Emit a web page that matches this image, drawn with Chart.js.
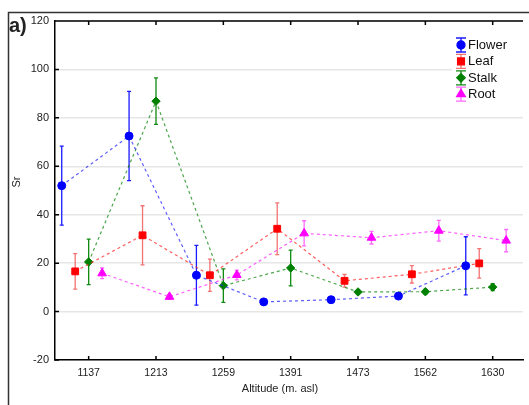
<!DOCTYPE html>
<html>
<head>
<meta charset="utf-8">
<script src="https://cdn.jsdelivr.net/npm/chart.js@4.4.0/dist/chart.umd.min.js"></script>
<style>
  body { margin: 0; background: #fff; }
  canvas { display: block; }
</style>
</head>
<body>
<canvas id="myChart" width="529" height="405"></canvas>
<script>
// altitude groups on the x axis
var altitudes = ["1137", "1213", "1259", "1391", "1473", "1562", "1630"];
var yTicks = [-20, 0, 20, 40, 60, 80, 100, 120];

var seriesNames = ["Flower", "Leaf", "Stalk", "Root"];

// Sr means and error (+/-)
var flower = [52.0, 72.5, 15.0, 4.0, 4.9, 6.4, 18.9];
var flowerErr = [16.3, 18.4, 12.3, 0.6, 0.6, 0.8, 12.0];
var leaf = [16.6, 31.5, 15.0, 34.2, 12.7, 15.4, 19.9];
var leafErr = [7.3, 12.2, 6.7, 10.7, 2.6, 3.6, 6.1];
var stalk = [20.5, 86.9, 10.7, 18.0, 8.1, 8.2, 10.1];
var stalkErr = [9.4, 9.6, 6.9, 7.4, 1.0, 1.0, 1.4];
var root = [15.8, 6.1, 15.1, 32.3, 30.5, 33.4, 29.3];
var rootErr = [2.2, 1.0, 2.0, 5.2, 2.6, 4.3, 4.6];

var values = [flower, leaf, stalk, root];
var errors = [flowerErr, leafErr, stalkErr, rootErr];

var colors = ["#0000ff", "#ff0000", "#008000", "#ff00ff"];
var lineColors = ["rgba(40,40,255,0.75)", "rgba(255,40,40,0.75)", "rgba(0,128,0,0.7)", "rgba(255,40,255,0.75)"];
var errColors = ["#1a1aff", "rgba(240,90,90,0.85)", "#108a10", "rgba(255,80,255,0.85)"];
var styles = ["circle", "rect", "rectRot", "triangle"];
var radii = [4, 4.8, 4.2, 5];
var shift = [-0.4, -0.2, 0, 0.2];

var datasets = seriesNames.map(function (name, s) {
  return {
    label: name,
    data: values[s].map(function (v, i) { return { x: i + shift[s], y: v }; }),
    showLine: true,
    borderColor: lineColors[s],
    borderWidth: 1.2,
    borderDash: [3, 3],
    pointStyle: styles[s],
    pointRadius: radii[s],
    pointBackgroundColor: colors[s],
    pointBorderColor: colors[s],
    pointBorderWidth: 1
  };
});

var errorBars = {
  id: "errorBars",
  beforeDatasetsDraw: function (chart) {
    var ctx = chart.ctx, xs = chart.scales.x, ys = chart.scales.y;
    ctx.save();
    errors.forEach(function (errs, s) {
      ctx.strokeStyle = errColors[s];
      ctx.lineWidth = 1.3;
      values[s].forEach(function (v, i) {
        var x = xs.getPixelForValue(i + shift[s]);
        var top = ys.getPixelForValue(v + errs[i]);
        var bot = ys.getPixelForValue(v - errs[i]);
        ctx.beginPath();
        ctx.moveTo(x, top); ctx.lineTo(x, bot);
        ctx.moveTo(x - 2, top); ctx.lineTo(x + 2, top);
        ctx.moveTo(x - 2, bot); ctx.lineTo(x + 2, bot);
        ctx.stroke();
      });
    });
    ctx.restore();
  }
};

function drawMarker(ctx, s, x, y) {
  Chart.helpers.drawPoint(ctx, { pointStyle: styles[s], radius: radii[s], borderWidth: 1 }, x, y);
}

var extras = {
  id: "extras",
  afterDraw: function (chart) {
    var ctx = chart.ctx, a = chart.chartArea, xs = chart.scales.x, ys = chart.scales.y;
    ctx.save();
    // outer frame
    ctx.strokeStyle = "#333";
    ctx.lineWidth = 1.5;
    ctx.beginPath();
    ctx.moveTo(8.5, 405); ctx.lineTo(8.5, 12.5); ctx.lineTo(529, 12.5);
    ctx.stroke();
    // top border of plot + inward ticks
    ctx.strokeStyle = "#000";
    ctx.beginPath();
    ctx.moveTo(a.left, a.top); ctx.lineTo(a.right, a.top);
    altitudes.forEach(function (t, i) {
      var x = xs.getPixelForValue(i);
      ctx.moveTo(x, a.top); ctx.lineTo(x, a.top + 4);
      ctx.moveTo(x, a.bottom); ctx.lineTo(x, a.bottom - 4);
    });
    yTicks.forEach(function (v) {
      var y = ys.getPixelForValue(v);
      ctx.moveTo(a.left, y); ctx.lineTo(a.left + 4, y);
    });
    ctx.stroke();

    // texts
    ctx.fillStyle = "#222";
    ctx.font = "bold 20px 'Liberation Sans', Arial, sans-serif";
    ctx.textAlign = "left";
    ctx.textBaseline = "alphabetic";
    ctx.fillText("a)", 9, 32);
    ctx.font = "11px 'Liberation Sans', Arial, sans-serif";
    ctx.textAlign = "center";
    ctx.textBaseline = "middle";
    ctx.fillText("Altitude (m. asl)", 280, 389);
    ctx.save();
    ctx.translate(17, 182);
    ctx.rotate(-Math.PI / 2);
    ctx.fillText("Sr", 0, 0);
    ctx.restore();

    // legend
    ctx.fillStyle = "#fff";
    ctx.fillRect(452, 32, 75, 72);
    seriesNames.forEach(function (name, s) {
      var y = 45 + s * 16.4, x = 461;
      ctx.strokeStyle = errColors[s];
      ctx.lineWidth = 1.3;
      ctx.beginPath();
      ctx.moveTo(x, y - 7); ctx.lineTo(x, y + 7);
      ctx.moveTo(x - 5, y - 7); ctx.lineTo(x + 5, y - 7);
      ctx.moveTo(x - 5, y + 7); ctx.lineTo(x + 5, y + 7);
      ctx.stroke();
      ctx.fillStyle = colors[s];
      ctx.strokeStyle = colors[s];
      drawMarker(ctx, s, x, y);
      ctx.fillStyle = "#111";
      ctx.font = "13px 'Liberation Sans', Arial, sans-serif";
      ctx.textAlign = "left";
      ctx.textBaseline = "middle";
      ctx.fillText(name, 468, y + 0.5);
    });
    ctx.restore();
  }
};

new Chart(document.getElementById("myChart"), {
  type: "line",
  data: { datasets: datasets },
  options: {
    responsive: false,
    animation: false,
    devicePixelRatio: 1,
    layout: { padding: { top: 21, right: 2, left: 0, bottom: 0 } },
    plugins: { legend: { display: false }, tooltip: { enabled: false } },
    scales: {
      x: {
        type: "linear",
        min: -0.5,
        max: 6.45,
        afterBuildTicks: function (scale) {
          scale.ticks = altitudes.map(function (t, i) { return { value: i }; });
        },
        afterFit: function (scale) { scale.height = 45; },
        ticks: {
          callback: function (v) { return altitudes[v]; },
          font: { family: "'Liberation Sans', Arial", size: 10.5 },
          color: "#222",
          padding: 7,
          maxRotation: 0
        },
        grid: { display: false, drawTicks: false },
        border: { color: "#000", width: 1.5 }
      },
      y: {
        min: -20,
        max: 120,
        afterBuildTicks: function (scale) {
          scale.ticks = yTicks.map(function (v) { return { value: v }; });
        },
        afterFit: function (scale) { scale.width = 55; },
        ticks: {
          font: { family: "'Liberation Sans', Arial", size: 11 },
          color: "#222",
          padding: 6
        },
        grid: { color: "#e6e6e6", lineWidth: 1.5, drawTicks: false },
        border: { color: "#000", width: 1.5 }
      }
    }
  },
  plugins: [errorBars, extras]
});
</script>
</body>
</html>
